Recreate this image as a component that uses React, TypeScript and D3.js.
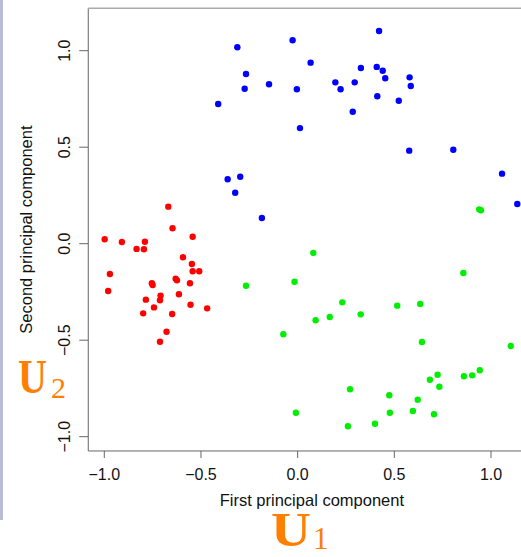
import React from 'react'
import * as d3 from 'd3'

// cluster points: [first PC, second PC]
const redPoints: [number, number][] = [
  [-0.669, 0.192], [-0.647, 0.080], [-0.543, 0.036], [-0.790, 0.010], [-0.795, -0.029],
  [-0.593, -0.070], [-0.547, -0.105], [-0.543, -0.143], [-0.509, -0.143], [-0.754, -0.205],
  [-0.750, -0.214], [-0.631, -0.181], [-0.624, -0.190], [-0.557, -0.205], [-0.614, -0.262],
  [-0.709, -0.269], [-0.712, -0.293], [-0.785, -0.290], [-0.743, -0.330], [-0.554, -0.316],
  [-0.468, -0.335], [-0.799, -0.361], [-0.649, -0.364], [-0.678, -0.456], [-0.712, -0.508],
  [-0.998, 0.023], [-0.909, 0.009], [-0.833, -0.027], [-0.971, -0.157], [-0.980, -0.245],
]

const bluePoints: [number, number][] = [
  [-0.312, 1.018], [-0.026, 1.054], [0.067, 0.938], [-0.267, 0.879], [-0.274, 0.803],
  [-0.148, 0.826], [-0.004, 0.800], [0.195, 0.836], [0.222, 0.800], [0.295, 0.836],
  [0.327, 0.910], [0.409, 0.916], [0.412, 0.764], [0.285, 0.684], [-0.411, 0.724],
  [0.012, 0.599], [0.421, 1.102], [0.440, 0.896], [0.453, 0.857], [0.579, 0.862],
  [0.585, 0.817], [0.523, 0.741], [0.577, 0.482], [0.805, 0.487], [1.057, 0.363],
  [1.136, 0.206], [-0.362, 0.334], [-0.297, 0.347], [-0.323, 0.264], [-0.185, 0.133],
]

const greenPoints: [number, number][] = [
  [0.081, -0.048], [-0.267, -0.218], [-0.016, -0.197], [0.857, -0.152], [0.231, -0.304],
  [0.093, -0.397], [0.166, -0.380], [0.326, -0.366], [0.515, -0.321], [0.634, -0.312],
  [-0.074, -0.469], [0.643, -0.509], [1.102, -0.530], [0.684, -0.705], [0.724, -0.679],
  [0.733, -0.741], [0.860, -0.687], [0.903, -0.682], [0.942, -0.656], [0.271, -0.754],
  [0.474, -0.785], [0.621, -0.808], [-0.009, -0.876], [0.477, -0.876], [0.596, -0.867],
  [0.705, -0.884], [0.260, -0.946], [0.400, -0.933], [0.939, 0.178], [0.948, 0.173],
]

const xTicks = [-1, -0.5, 0, 0.5, 1]
const yTicks = [-1, -0.5, 0, 0.5, 1]

const W = 521
const H = 557

export default function App() {
  const x = d3.scaleLinear().domain([-1, 1]).range([104.3, 491])
  const y = d3.scaleLinear().domain([-1, 1]).range([436.7, 50.7])
  const fmt = d3.format('.1f')

  // plot box (R's 4% padding)
  const left = x(-1.083)
  const right = x(1.23)
  const top = y(1.22)
  const bottom = y(-1.074)

  const font = '"Liberation Sans", Arial, sans-serif'
  const serif = '"Liberation Serif", serif'
  const orange = '#ff8000'

  const series = [
    { pts: redPoints, color: '#ff0000' },
    { pts: bluePoints, color: '#0000ff' },
    { pts: greenPoints, color: '#00ee00' },
  ]

  return (
    <div style={{ position: 'absolute', left: 0, top: 0 }}>
      <svg width={W} height={H} style={{ display: 'block', background: '#fff' }}>
        {/* slide edge */}
        <rect x={0} y={0} width={3} height={520} fill="#babad9" />

        <line x1={left} x2={left} y1={top} y2={bottom} stroke="#666" />
        <line x1={left} x2={right} y1={bottom} y2={bottom} stroke="#666" />
        <line x1={left} x2={right} y1={top} y2={top} stroke="#aaa" strokeWidth={1.5} />

        {xTicks.map(t => (
          <g key={'x' + t}>
            <line x1={x(t)} x2={x(t)} y1={bottom} y2={bottom + 7} stroke="#666" />
            <text x={x(t)} y={480} textAnchor="middle" fontFamily={font} fontSize={16} fill="#111">
              {fmt(t)}
            </text>
          </g>
        ))}
        {yTicks.map(t => (
          <g key={'y' + t}>
            <line x1={left} x2={left - 9} y1={y(t)} y2={y(t)} stroke="#666" />
            <text transform={`translate(70,${y(t)}) rotate(-90)`} textAnchor="middle"
              fontFamily={font} fontSize={16} fill="#111">
              {fmt(t)}
            </text>
          </g>
        ))}

        <text x={(left + right) / 2} y={506} textAnchor="middle" fontFamily={font} fontSize={16.5} fill="#111">
          First principal component
        </text>
        <text transform={`translate(32,${(top + bottom) / 2}) rotate(-90)`} textAnchor="middle"
          fontFamily={font} fontSize={16.5} fill="#111">
          Second principal component
        </text>

        {series.map((s, i) => (
          <g key={i}>
            {s.pts.map((d, j) => (
              <circle key={j} cx={x(d[0])} cy={y(d[1])} r={3.2} fill={s.color} />
            ))}
          </g>
        ))}

        {/* orange annotations */}
        <text x={18} y={393} fontFamily={serif} fontWeight="bold" fontSize={48}
          fill={orange} textLength={29} lengthAdjust="spacingAndGlyphs">U</text>
        <text x={51} y={398} fontFamily={serif} fontSize={30} fill={orange}>2</text>
        <text x={271} y={546} fontFamily={serif} fontWeight="bold" fontSize={48}
          fill={orange} textLength={40} lengthAdjust="spacingAndGlyphs">U</text>
        <text x={313} y={549} fontFamily={serif} fontSize={31} fill={orange}>1</text>
      </svg>
    </div>
  )
}
